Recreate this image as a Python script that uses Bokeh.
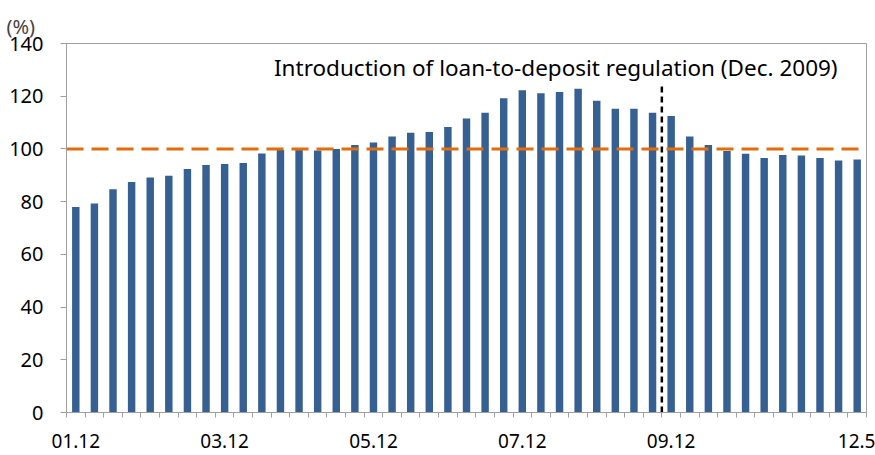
from bokeh.plotting import figure
from bokeh.models import Range1d, FixedTicker, Span, Label
from bokeh.embed import file_html
from bokeh.resources import INLINE

# Quarterly loan-to-deposit ratio (%) Dec 2001 .. May 2012
ratio = [78.0, 79.3, 84.7, 87.5, 89.2, 89.8, 92.4, 93.9, 94.3, 94.7,
         98.3, 99.6, 100.2, 99.4, 100.0, 101.5, 102.4, 104.7, 106.1, 106.4,
         108.3, 111.5, 113.7, 119.2, 122.3, 121.1, 121.6, 122.8, 118.3, 115.2,
         115.2, 113.7, 112.5, 104.7, 101.5, 99.2, 98.2, 96.6, 97.7, 97.5,
         96.6, 95.6, 96.0]
idx = list(range(1, len(ratio) + 1))
tick_pos = [1, 9, 17, 25, 33, 43]
tick_labels = ["01.12", "03.12", "05.12", "07.12", "09.12", "12.5"]
threshold = 100
reg_index = 32.5
reg_top = 123.7
note = "Introduction of loan-to-deposit regulation (Dec. 2009)"

FONT = "Noto Sans"
p = figure(width=875, height=455, output_backend="svg", toolbar_location=None,
           x_range=Range1d(0.5, len(ratio) + 0.5), y_range=Range1d(0, 140),
           min_border_left=66, min_border_right=9, min_border_top=43, min_border_bottom=43)
p.title.text = "(%)"
p.title.text_font = FONT
p.title.text_font_size = "20px"
p.title.text_font_style = "normal"
p.title.offset = -60
p.title.standoff = 8

p.vbar(x=idx, top=ratio, width=0.4, fill_color="#376092", line_color=None)

p.add_layout(Span(location=threshold, dimension="width", line_color="#E46C0A",
                  line_width=3, line_dash="17 8"))
p.segment(x0=[reg_index], y0=[0], x1=[reg_index], y1=[reg_top],
          line_color="black", line_width=2.5, line_dash="6 4")
p.add_layout(Label(x=26.8, y=131, text=note, text_align="center", text_baseline="middle",
                   text_font=FONT, text_font_size="22.5px", text_color="black"))

p.xgrid.visible = False
p.ygrid.visible = False
p.outline_line_color = "#A0A0A0"
p.outline_line_width = 1

minor = [i + 0.5 for i in range(0, len(ratio) + 1)]
p.xaxis.ticker = FixedTicker(ticks=tick_pos, minor_ticks=minor)
p.xaxis.major_label_overrides = {t: l for t, l in zip(tick_pos, tick_labels)}
p.xaxis.major_tick_out = 0
p.xaxis.major_tick_in = 0
p.xaxis.minor_tick_out = 5
p.xaxis.minor_tick_in = 0
p.xaxis.minor_tick_line_color = "#A0A0A0"
p.xaxis.axis_line_color = "#A0A0A0"
p.xaxis.major_label_standoff = 16
p.xaxis.major_label_text_font_size = "19px"

p.yaxis.ticker = FixedTicker(ticks=list(range(0, 141, 20)), minor_ticks=[])
p.yaxis.major_tick_out = 6
p.yaxis.major_tick_in = 0
p.yaxis.major_tick_line_color = "#A0A0A0"
p.yaxis.axis_line_color = "#A0A0A0"
p.yaxis.major_label_standoff = 17
p.yaxis.major_label_text_font_size = "20px"

for ax in (p.xaxis, p.yaxis):
    ax.major_label_text_font = FONT
    ax.major_label_text_color = "black"

open("out.html", "w").write(file_html(p, INLINE))
